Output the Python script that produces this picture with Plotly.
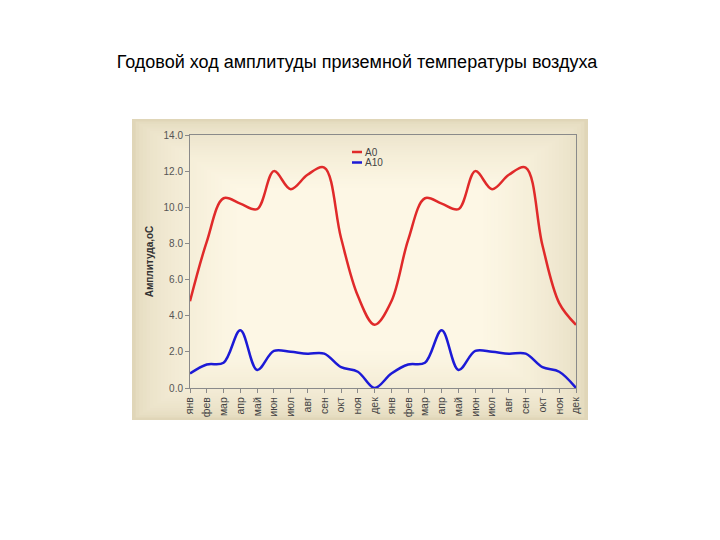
import plotly.graph_objects as go

months = ["янв", "фев", "мар", "апр", "май", "июн", "июл", "авг", "сен", "окт", "ноя", "дек",
          "янв", "фев", "мар", "апр", "май", "июн", "июл", "авг", "сен", "окт", "ноя", "дек"]
a0 = [4.8, 8.1, 10.5, 10.2, 9.9, 12.0, 11.0, 11.8, 12.2, 8.3, 5.1, 3.5,
      4.8, 8.2, 10.5, 10.2, 9.9, 12.0, 11.0, 11.8, 12.2, 7.9, 4.7, 3.5]
a10 = [0.8, 1.3, 1.4, 3.2, 1.0, 2.05, 2.0, 1.9, 1.9, 1.15, 0.9, 0.0,
       0.8, 1.3, 1.4, 3.2, 1.0, 2.05, 2.0, 1.9, 1.9, 1.15, 0.9, 0.0]
series_names = ["A0", "A10"]
series_colors = ["#e02a2a", "#1c1ad6"]
yticks = [0, 2, 4, 6, 8, 10, 12, 14]

FW, FH = 720, 540
L, R, T, B = 190, 144, 135, 152
W = FW - L - R
H = FH - T - B


def px(x, y):
    return (x - L) / W, (FH - B - y) / H


# beige vignette background made of nested rectangles
shapes = []
bx0, by0, bx1, by1 = 132, 119, 588, 420
outer = (224, 214, 184)
inner = (253, 247, 229)
n = 30
for i in range(n):
    t = i / (n - 1)
    e = t ** 0.5
    c = tuple(int(round(outer[k] + (inner[k] - outer[k]) * e)) for k in range(3))
    ix = i * 3.6
    iy = i * 2.4
    x0, y0 = px(bx0 + ix, by1 - iy)
    x1, y1 = px(bx1 - ix, by0 + iy)
    shapes.append(dict(type="rect", xref="paper", yref="paper", x0=x0, y0=y0, x1=x1, y1=y1,
                       fillcolor="rgb(%d,%d,%d)" % c, line=dict(width=0), layer="below"))

fig = go.Figure()
fig.add_trace(go.Scatter(x=list(range(len(months))), y=a0, mode="lines", name=series_names[0],
                         line=dict(color=series_colors[0], width=2.5, shape="spline", smoothing=1.0)))
fig.add_trace(go.Scatter(x=list(range(len(months))), y=a10, mode="lines", name=series_names[1],
                         line=dict(color=series_colors[1], width=2.5, shape="spline", smoothing=1.0)))

# compact legend (short line + label), as in the original
annotations = []
leg_x0, leg_x1, leg_y = 352, 362, 152
for k, (nm, col) in enumerate(zip(series_names, series_colors)):
    yy = leg_y + k * 10.5
    xa, ya = px(leg_x0, yy)
    xb, _ = px(leg_x1, yy)
    shapes.append(dict(type="line", xref="paper", yref="paper", x0=xa, x1=xb, y0=ya, y1=ya,
                       line=dict(color=col, width=2.5)))
    xt, _ = px(leg_x1 + 1, yy)
    annotations.append(dict(text=nm, xref="paper", yref="paper", x=xt, y=ya, xanchor="left",
                            yanchor="middle", showarrow=False,
                            font=dict(size=10, color="#444444")))

fig.update_layout(
    width=FW, height=FH,
    margin=dict(l=L, r=R, t=T, b=B, autoexpand=False),
    paper_bgcolor="white",
    plot_bgcolor="rgba(0,0,0,0)",
    shapes=shapes,
    annotations=annotations,
    showlegend=False,
    font=dict(family="Liberation Sans, Arial, sans-serif", color="#555555", size=10),
    title=dict(text="Годовой ход амплитуды приземной температуры воздуха",
               x=357 / FW, xanchor="center", y=1 - 62 / FH, yanchor="middle",
               xref="container", yref="container",
               font=dict(family="Liberation Sans, Arial, sans-serif", size=18, color="black")),
)
fig.update_xaxes(range=[0, len(months) - 1], tickmode="array", tickvals=list(range(len(months))),
                 ticktext=months, tickangle=-90, showgrid=False, zeroline=False,
                 showline=True, linecolor="#8a8a8a", linewidth=1, mirror=True,
                 ticks="outside", ticklen=4, tickcolor="#8a8a8a",
                 tickfont=dict(size=10.5, color="#444444"))
fig.update_yaxes(range=[0, 14], tickmode="array", tickvals=yticks,
                 ticktext=["%.1f" % v for v in yticks], showgrid=False, zeroline=False,
                 showline=True, linecolor="#8a8a8a", linewidth=1, mirror=True,
                 ticks="outside", ticklen=4, tickcolor="#8a8a8a",
                 tickfont=dict(size=10, color="#555555"),
                 title=dict(text="<b>Амплитуда,oC</b>", standoff=8,
                            font=dict(size=10, color="#333333")))

fig.write_html("out.html")
